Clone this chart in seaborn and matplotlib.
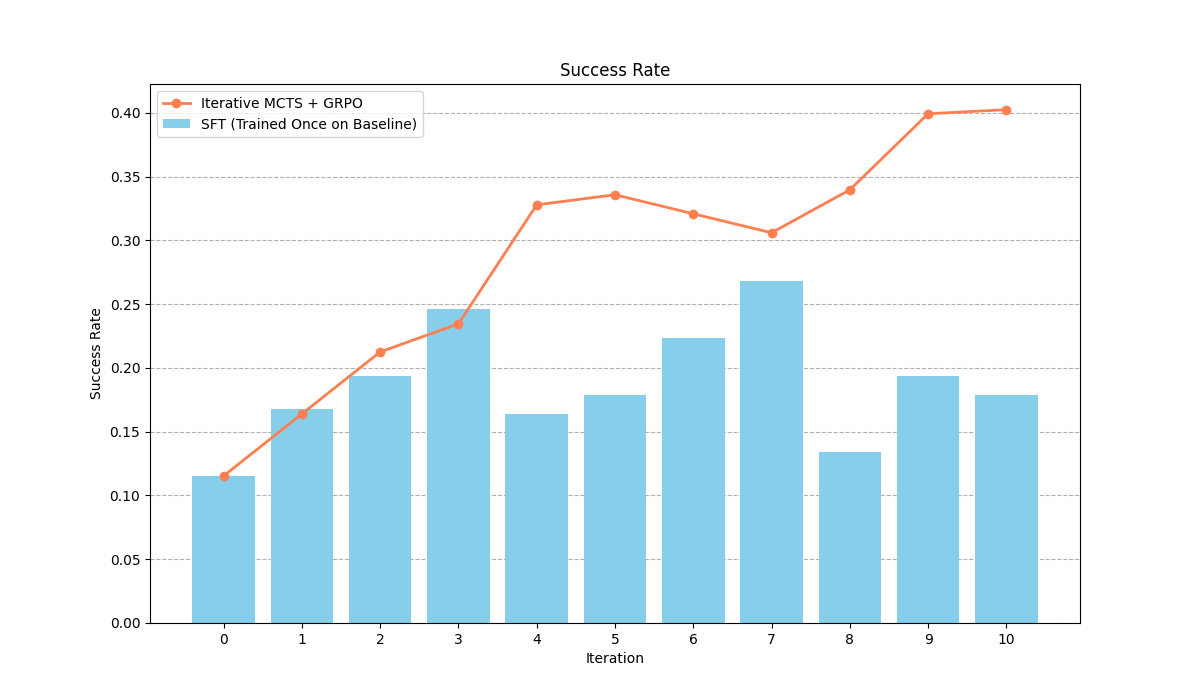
import numpy as np
import pandas as pd
import matplotlib
matplotlib.use("Agg")
import matplotlib.pyplot as plt
import seaborn as sns

# Values
iterations = list(range(11))
sft_rate = [0.1153, 0.1678, 0.1937, 0.2463, 0.1639, 0.1788,
            0.2235, 0.2682, 0.1341, 0.1937, 0.1788]
mcts_rate = [0.1153, 0.1639, 0.2125, 0.2345, 0.3278, 0.3357,
             0.3208, 0.3059, 0.3396, 0.3992, 0.4024]

df = pd.DataFrame({"iteration": iterations, "sft": sft_rate, "mcts": mcts_rate})

fig, ax = plt.subplots(figsize=(12, 7), dpi=100)

sns.barplot(data=df, x="iteration", y="sft", color="skyblue", saturation=1,
            width=0.8, linewidth=0, label="SFT (Trained Once on Baseline)", ax=ax)
ax.plot(df["iteration"], df["mcts"], color="coral", marker="o", linewidth=2,
        markersize=6, label="Iterative MCTS + GRPO")

ax.set_xlim(-0.4 - 0.54, 10.4 + 0.54)
ax.set_ylim(0, max(mcts_rate) * 1.05)
ax.set_title("Success Rate")
ax.set_xlabel("Iteration")
ax.set_ylabel("Success Rate")
ax.yaxis.grid(True, linestyle="--")
ax.set_axisbelow(True)

handles, labels = ax.get_legend_handles_labels()
order = [labels.index("Iterative MCTS + GRPO"), labels.index("SFT (Trained Once on Baseline)")]
ax.legend([handles[i] for i in order], [labels[i] for i in order], loc="upper left")

plt.savefig("out.png", dpi=100)
